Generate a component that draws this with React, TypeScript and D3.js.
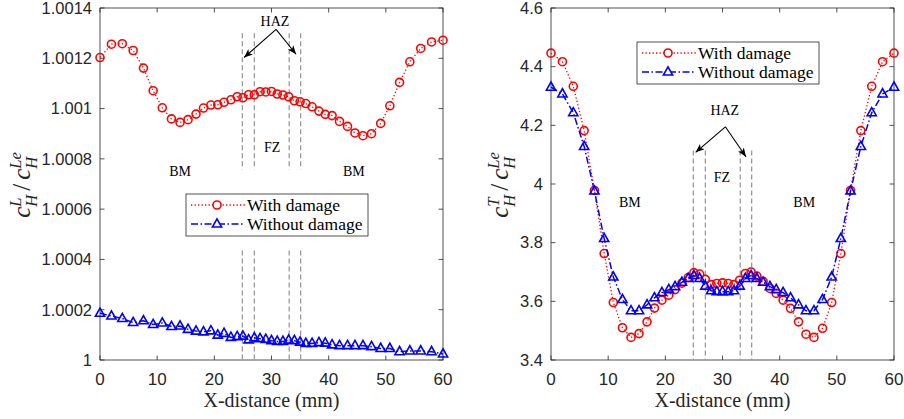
import { useEffect, useRef } from 'react';
import * as d3 from 'd3';

// mesh nodes along the weld (mm)
const xDistance = [
  0, 2.0, 3.9, 5.8, 7.6, 9.3, 10.9, 12.5, 14.0, 15.4, 16.8, 18.1, 19.4, 20.6, 21.7, 22.9, 24.0, 25.0,
  26.0, 27.0, 28.0, 29.0, 30.0, 31.0, 32.0, 33.0, 34.0,
  35.0, 36.0, 37.1, 38.3, 39.4, 40.6, 41.9, 43.3, 44.6, 46.0, 47.5, 49.1, 50.7, 52.4, 54.2, 56.1, 58.0, 60.0,
];

const leftWithDamage = [
  1.001203, 1.001256, 1.001258, 1.001231, 1.001161, 1.001071, 1.001003, 1.000959, 1.000945, 1.000956,
  1.000978, 1.001002, 1.001014, 1.001015, 1.001025, 1.001035, 1.001047, 1.001043, 1.001055, 1.001055,
  1.001067, 1.001066, 1.001068, 1.001058, 1.001054, 1.001047, 1.001031, 1.001027, 1.00102, 1.001007,
  1.00099, 1.000977, 1.000972, 1.000949, 1.000929, 1.000903, 1.000892, 1.0009, 1.000941, 1.001011,
  1.001104, 1.001186, 1.001239, 1.001265, 1.001272,
];

const leftWithoutDamage = [
  1.000186, 1.000175, 1.000165, 1.000149, 1.000156, 1.000141, 1.000147, 1.000133, 1.000135, 1.000122,
  1.000115, 1.000112, 1.000116, 1.000099, 1.000106, 1.00009, 1.000093, 1.000095, 1.00008, 1.000088,
  1.000085, 1.000082, 1.000077, 1.000074, 1.000074, 1.000079, 1.000077, 1.000071, 1.000066, 1.000066,
  1.000069, 1.000067, 1.00006, 1.000057, 1.000057, 1.000057, 1.000057, 1.000053, 1.000046, 1.000046,
  1.000033, 1.000036, 1.000036, 1.000033, 1.000024,
];

const rightWithDamage = [
  4.446, 4.417, 4.333, 4.182, 3.978, 3.763, 3.596, 3.51, 3.477, 3.49, 3.53, 3.577, 3.604, 3.621, 3.64,
  3.662, 3.681, 3.698, 3.693, 3.675, 3.657, 3.661, 3.663, 3.661, 3.657, 3.672, 3.695, 3.7, 3.686, 3.668,
  3.644, 3.627, 3.604, 3.576, 3.53, 3.488, 3.477, 3.508, 3.596, 3.763, 3.978, 4.182, 4.333, 4.417, 4.446,
];

const rightWithoutDamage = [
  4.33, 4.307, 4.243, 4.128, 3.976, 3.814, 3.683, 3.606, 3.568, 3.568, 3.588, 3.612, 3.63, 3.64, 3.65,
  3.665, 3.678, 3.688, 3.678, 3.652, 3.636, 3.633, 3.633, 3.633, 3.636, 3.652, 3.678, 3.688, 3.678, 3.665,
  3.65, 3.64, 3.63, 3.612, 3.588, 3.568, 3.568, 3.606, 3.683, 3.814, 3.976, 4.128, 4.243, 4.307, 4.33,
];

const xTicks = [0, 10, 20, 30, 40, 50, 60];
const leftYTicks = [1, 1.0002, 1.0004, 1.0006, 1.0008, 1.001, 1.0012, 1.0014];
const leftYTickLabels = ['1', '1.0002', '1.0004', '1.0006', '1.0008', '1.001', '1.0012', '1.0014'];
const rightYTicks = [3.4, 3.6, 3.8, 4, 4.2, 4.4, 4.6];
const rightYTickLabels = ['3.4', '3.6', '3.8', '4', '4.2', '4.4', '4.6'];
const zoneBounds = [24.9, 27.0, 33.1, 35.1];
const legendLabels = ['With damage', 'Without damage'];

const SERIF = '"Liberation Serif", "Times New Roman", serif';
const SANS = '"Liberation Sans", Arial, sans-serif';
const AXIS = '#262626';
const RED = '#ff0000';
const BLUE = '#0000ff';

const trianglePath = 'M0,-5.2 L4.6,3 L-4.6,3 Z';

function drawPanel(root, cfg) {
  const { left, top, width, height } = cfg;
  const x = d3.scaleLinear().domain([0, 60]).range([left, left + width]);
  const y = d3.scaleLinear().domain(cfg.yDomain).range([top + height, top]);
  const g = root.append('g');

  // box
  g.append('rect')
    .attr('x', left).attr('y', top).attr('width', width).attr('height', height)
    .attr('fill', 'white').attr('stroke', AXIS).attr('stroke-width', 0.8);

  // ticks on every side, pointing in
  const tl = 4.5;
  xTicks.forEach(t => {
    g.append('line').attr('x1', x(t)).attr('x2', x(t)).attr('y1', top + height).attr('y2', top + height - tl)
      .attr('stroke', AXIS).attr('stroke-width', 0.8);
    g.append('line').attr('x1', x(t)).attr('x2', x(t)).attr('y1', top).attr('y2', top + tl)
      .attr('stroke', AXIS).attr('stroke-width', 0.8);
    g.append('text').attr('x', x(t)).attr('y', top + height + 25)
      .attr('text-anchor', 'middle').attr('font-family', SANS).attr('font-size', 17).attr('fill', AXIS)
      .text(t);
  });
  cfg.yTicks.forEach((t, i) => {
    g.append('line').attr('x1', left).attr('x2', left + tl).attr('y1', y(t)).attr('y2', y(t))
      .attr('stroke', AXIS).attr('stroke-width', 0.8);
    g.append('line').attr('x1', left + width).attr('x2', left + width - tl).attr('y1', y(t)).attr('y2', y(t))
      .attr('stroke', AXIS).attr('stroke-width', 0.8);
    g.append('text').attr('x', left - 8).attr('y', y(t) + 5.8)
      .attr('text-anchor', 'end').attr('font-family', SANS).attr('font-size', 16.5).attr('fill', AXIS)
      .text(cfg.yLabels[i]);
  });

  // x label
  g.append('text').attr('x', left + width / 2).attr('y', 407)
    .attr('text-anchor', 'middle').attr('font-family', SERIF).attr('font-size', 20).attr('fill', AXIS)
    .text('X-distance (mm)');

  // y label  c_H^sup / c_H^Le
  const yl = g.append('text')
    .attr('transform', `translate(${cfg.yLabelX},185) rotate(-90)`)
    .attr('text-anchor', 'middle').attr('font-family', SERIF).attr('font-size', 25)
    .attr('font-style', 'italic').attr('fill', AXIS);
  yl.append('tspan').text('c');
  yl.append('tspan').attr('dy', -9.5).attr('font-size', 16.5).text(cfg.ySup);
  yl.append('tspan').attr('dx', cfg.ySup === 'L' ? -9.2 : -9.2).attr('dy', 16.5).attr('font-size', 16.5).text('H');
  yl.append('tspan').attr('dx', 4).attr('dy', -7).attr('font-style', 'normal').text('/');
  yl.append('tspan').attr('dx', 4).text('c');
  yl.append('tspan').attr('dy', -9.5).attr('font-size', 16.5).text('Le');
  yl.append('tspan').attr('dx', -16.5).attr('dy', 16.5).attr('font-size', 16.5).text('H');

  // zone boundaries
  cfg.dashRanges.forEach(([y0, y1]) => {
    zoneBounds.forEach(b => {
      g.append('line').attr('x1', x(b)).attr('x2', x(b)).attr('y1', y(y0)).attr('y2', y(y1))
        .attr('stroke', '#9a9a9a').attr('stroke-width', 1.3).attr('stroke-dasharray', '5,3');
    });
  });

  // annotations
  const ann = (t, p) => g.append('text').attr('x', x(p[0])).attr('y', y(p[1]))
    .attr('text-anchor', 'middle').attr('font-family', SERIF).attr('font-size', 14).attr('fill', '#000').text(t);
  ann('HAZ', cfg.haz);
  ann('FZ', cfg.fz);
  cfg.bm.forEach(p => ann('BM', p));
  cfg.arrowTips.forEach(tip => {
    g.append('line').attr('x1', x(cfg.arrowStart[0])).attr('y1', y(cfg.arrowStart[1]))
      .attr('x2', x(tip[0])).attr('y2', y(tip[1]))
      .attr('stroke', '#000').attr('stroke-width', 1.1).attr('marker-end', 'url(#arrowHead)');
  });

  // with damage
  const pts = cfg.withD.map((v, i) => [xDistance[i], v]);
  const pts2 = cfg.withoutD.map((v, i) => [xDistance[i], v]);
  const line = d3.line().x(d => x(d[0])).y(d => y(d[1]));
  g.append('path').attr('d', line(pts)).attr('fill', 'none').attr('stroke', RED)
    .attr('stroke-width', 1.3).attr('stroke-dasharray', '1.3,2.2');
  g.selectAll(null).data(pts).enter().append('circle')
    .attr('cx', d => x(d[0])).attr('cy', d => y(d[1])).attr('r', 4)
    .attr('fill', 'none').attr('stroke', RED).attr('stroke-width', 1.6);

  // without damage
  g.append('path').attr('d', line(pts2)).attr('fill', 'none').attr('stroke', BLUE)
    .attr('stroke-width', 1.5).attr('stroke-dasharray', '7,2.5,1.5,2.5');
  g.selectAll(null).data(pts2).enter().append('path')
    .attr('d', trianglePath)
    .attr('transform', d => `translate(${x(d[0])},${y(d[1])})`)
    .attr('fill', 'none').attr('stroke', BLUE).attr('stroke-width', 1.6);

  // legend
  const lg = g.append('g').attr('transform', `translate(${cfg.legend[0]},${cfg.legend[1]})`);
  lg.append('rect').attr('width', 182).attr('height', 42).attr('fill', 'white')
    .attr('stroke', AXIS).attr('stroke-width', 0.8);
  legendLabels.forEach((lab, i) => {
    const cy = 11 + i * 19;
    lg.append('line').attr('x1', 5).attr('x2', 59).attr('y1', cy).attr('y2', cy)
      .attr('stroke', i === 0 ? RED : BLUE).attr('stroke-width', i === 0 ? 1.3 : 1.5)
      .attr('stroke-dasharray', i === 0 ? '1.3,2.2' : '7,2.5,1.5,2.5');
    if (i === 0) {
      lg.append('circle').attr('cx', 31).attr('cy', cy).attr('r', 4)
        .attr('fill', 'white').attr('stroke', RED).attr('stroke-width', 1.6);
    } else {
      lg.append('path').attr('d', trianglePath).attr('transform', `translate(31,${cy})`)
        .attr('fill', 'white').attr('stroke', BLUE).attr('stroke-width', 1.6);
    }
    lg.append('text').attr('x', 61).attr('y', cy + 5.5)
      .attr('font-family', SERIF).attr('font-size', 17.5).attr('fill', '#000').text(lab);
  });
}

const App = () => {
  const svgRef = useRef(null);

  useEffect(() => {
    const svg = d3.select(svgRef.current);
    svg.selectAll('*').remove();

    svg.append('defs').append('marker')
      .attr('id', 'arrowHead').attr('viewBox', '0 0 10 8')
      .attr('refX', 10).attr('refY', 4)
      .attr('markerWidth', 9).attr('markerHeight', 7)
      .attr('markerUnits', 'userSpaceOnUse')
      .attr('orient', 'auto')
      .append('path').attr('d', 'M0,0 L10,4 L0,8 L2.5,4 Z').attr('fill', '#000');

    drawPanel(svg, {
      left: 100, top: 8, width: 343, height: 352,
      yDomain: [1, 1.0014], yTicks: leftYTicks, yLabels: leftYTickLabels,
      withD: leftWithDamage, withoutD: leftWithoutDamage,
      ySup: 'L', yLabelX: 30,
      dashRanges: [[1.0013, 1.000758], [1.000436, 1]],
      haz: [30.6, 1.001328], arrowStart: [30.8, 1.001315], arrowTips: [[25.2, 1.001203], [34.3, 1.001216]],
      fz: [30.1, 1.000828], bm: [[14, 1.00073], [44.4, 1.00073]],
      legend: [186, 194],
    });

    drawPanel(svg, {
      left: 551, top: 8, width: 343, height: 352,
      yDomain: [3.4, 4.6], yTicks: rightYTicks, yLabels: rightYTickLabels,
      withD: rightWithDamage, withoutD: rightWithoutDamage,
      ySup: 'T', yLabelX: 508,
      dashRanges: [[4.114, 3.4]],
      haz: [30.4, 4.235], arrowStart: [30.5, 4.195], arrowTips: [[25.3, 4.108], [34.1, 4.093]],
      fz: [29.9, 4.008], bm: [[13.8, 3.922], [44.3, 3.922]],
      legend: [637, 42],
    });
  }, []);

  return (
    <svg ref={svgRef} width={904} height={419}
      style={{ position: 'absolute', left: 0, top: 0, background: 'white' }} />
  );
};

export default App;
